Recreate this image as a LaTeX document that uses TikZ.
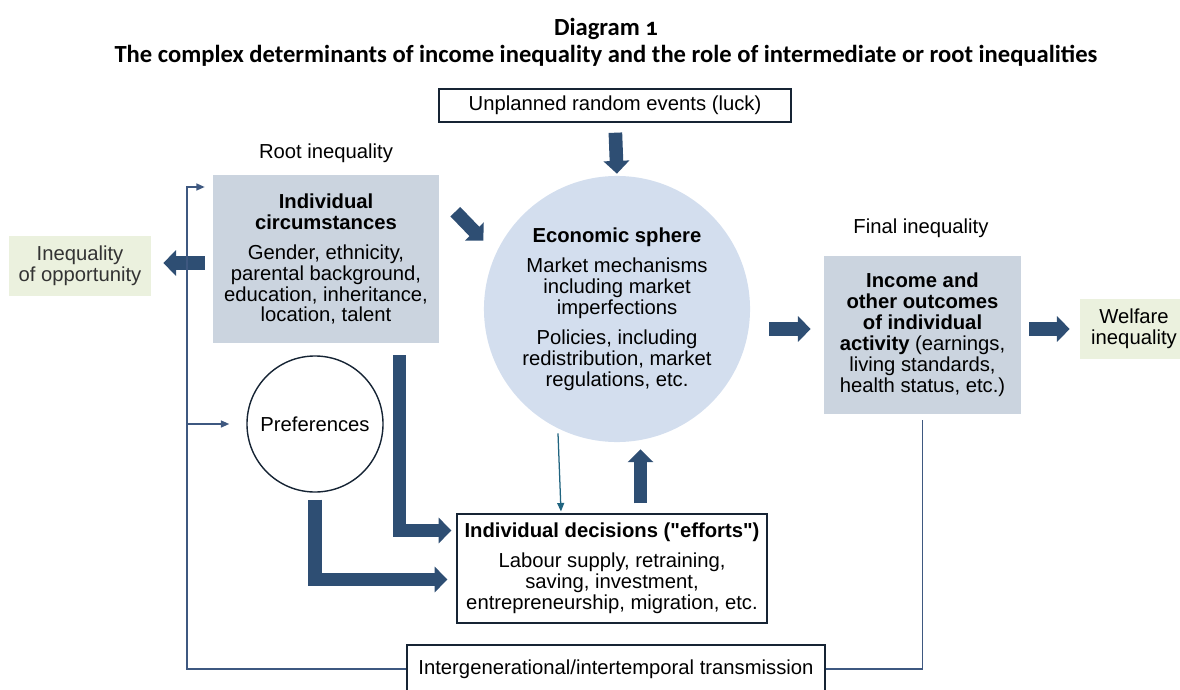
\documentclass[tikz,border=0pt]{standalone}
\usepackage{fontspec}
\setmainfont{Liberation Sans}[Ligatures=TeXOff]
\newfontfamily\titlefont[Numbers=OldStyle]{Carlito}
\usetikzlibrary{arrows.meta, positioning, calc}
\definecolor{arrowblue}{RGB}{46,78,115}
\definecolor{lineblue}{RGB}{62,88,128}
\definecolor{tealline}{RGB}{32,100,128}
\definecolor{boxgray}{RGB}{203,212,223}
\definecolor{spherefill}{RGB}{211,222,238}
\definecolor{oppgreen}{RGB}{235,241,222}
\definecolor{boxline}{RGB}{22,36,52}

\begin{document}
\begin{tikzpicture}[
    x=0.025cm, y=-0.025cm,
    txt/.style={font=\fontsize{14.4}{14.9}\selectfont, align=center, inner sep=0pt},
    titletxt/.style={font=\titlefont\bfseries\fontsize{17.5}{20}\selectfont, inner sep=0pt},
    framebox/.style={txt, draw=boxline, line width=1pt},
    graybox/.style={txt, fill=boxgray},
    outbox/.style={txt, fill=oppgreen, text=black!80},
    fatarr/.style={draw=arrowblue, line width=0.34cm, line join=miter,
                   -{Triangle[width=0.63cm, length=0.32cm]}},
    fbline/.style={draw=lineblue, line width=1.1pt},
    fbarr/.style={fbline, -{Triangle[width=5pt, length=6pt]}},
]
\useasboundingbox (0,0) rectangle (1180,690);
% === Heading ===
\node[titletxt] (title) at (606,29) {Diagram 1};
\node[titletxt] (subtitle) at (606,56) {The complex determinants of income inequality and the role of intermediate or root inequalities};
% === Top: luck feeding the economic sphere ===
\node[framebox, minimum width=8.8cm, minimum height=0.825cm] (luck) at (615,105.5) {Unplanned random events (luck)};
\node[txt, circle, fill=spherefill, minimum size=6.65cm] (econ) at (617,309)
    {\textbf{Economic sphere}\\[6.5pt]Market mechanisms\\including market\\imperfections\\[6.5pt]Policies, including\\redistribution, market\\regulations, etc.};
% === Root inequality (left) ===
\node[txt] (rootlbl) at (326,153) {Root inequality};
\node[graybox, minimum width=5.65cm, minimum height=4.2cm] (circ) at (326,259)
    {\textbf{Individual}\\\textbf{circumstances}\\[6.5pt]Gender, ethnicity,\\parental background,\\education, inheritance,\\location, talent};
\node[outbox, minimum width=3.55cm, minimum height=1.5cm] (ineqopp) at (80,266) {Inequality\\of opportunity};
\node[txt, circle, draw=boxline, line width=1pt, minimum size=3.4cm] (pref) at (315,424) {Preferences};
% === Final inequality (right) ===
\node[txt] (finallbl) at (921,228) {Final inequality};
\node[graybox, minimum width=4.925cm, minimum height=3.95cm] (income) at (922.5,335)
    {\textbf{Income and}\\\textbf{other outcomes}\\\textbf{of individual}\\\textbf{activity} (earnings,\\living standards,\\health status, etc.)};
\node[outbox, minimum width=2.7cm, minimum height=1.5cm, text=black] (welfare) at (1134,329) {Welfare\\inequality};
% === Efforts and transmission (bottom) ===
\node[framebox, line width=0.8pt, minimum width=7.75cm, minimum height=2.725cm] (decis) at (612,568.5)
    {\textbf{Individual decisions ("efforts")}\\[6.5pt]Labour supply, retraining,\\saving, investment,\\entrepreneurship, migration, etc.};
\node[framebox, line width=0.8pt, minimum width=10.45cm, minimum height=1.2cm] (trans) at (616,669) {Intergenerational/intertemporal transmission};
% === Block arrows ===
\draw[fatarr, shorten <=0.25cm, shorten >=0.05cm] (luck.south) -- (econ.north);
\draw[fatarr] ($(circ.north east)+(16,37)$) -- ++(28,29);
\draw[fatarr, shorten <=0.2cm, shorten >=0.3cm] ($(circ.west)+(0,4)$) -- ($(ineqopp.east)+(0,-3)$);
\draw[fatarr, shorten <=0.475cm, shorten >=0.325cm] ($(econ.east |- income.west)+(0,-6)$) -- ($(income.west)+(0,-6)$);
\draw[fatarr, shorten <=0.2cm, shorten >=0.25cm] (income.east |- welfare) -- (welfare.west);
\draw[fatarr, shorten <=0.3cm] ($(circ.south)+(73.5,0)$) |- ($(decis.west)+(-5,-38)$);
\draw[fatarr, shorten <=0.175cm] (pref.south) |- ($(decis.west)+(-9,11)$);
\draw[fatarr, shorten <=0.25cm, shorten >=0.2cm] ($(decis.north)+(28.5,0)$) -- ($(decis.north)+(28.5,-72)$);
\draw[draw=tealline, line width=0.9pt, -{Triangle[width=5pt, length=6pt]}]
    ($(econ.south)+(-59,-9)$) -- ($(decis.north)+(-51,-2)$);
% === Feedback through the generations ===
\coordinate (spine) at (187,187);
\draw[fbarr] (trans.west) -| (spine) -- ($(spine -| circ.west)+(-8,0)$);
\draw[fbarr] (spine |- pref) -- ($(pref.west)+(-17,0)$);
\draw[fbline] (trans.east) -| ($(income.south)+(0,6)$);
\end{tikzpicture}
\end{document}
